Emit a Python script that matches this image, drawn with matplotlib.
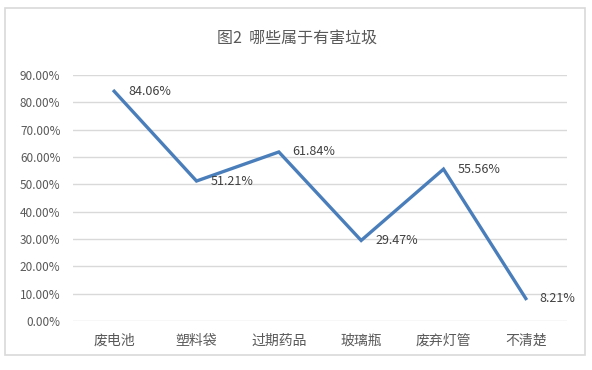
import matplotlib.pyplot as plt
from matplotlib.patches import Rectangle
from matplotlib.ticker import PercentFormatter, MultipleLocator

plt.rcParams['font.family'] = ['Noto Sans CJK SC', 'DejaVu Sans']

categories = ["废电池", "塑料袋", "过期药品", "玻璃瓶", "废弃灯管", "不清楚"]
values = [84.06, 51.21, 61.84, 29.47, 55.56, 8.21]
title = "图2  哪些属于有害垃圾"

line_color = "#4A7EBB"
text_color = "#595959"
grid_color = "#D9D9D9"

fig = plt.figure(figsize=(5.92, 3.70), dpi=100)
ax = fig.add_axes([73 / 592, 1 - 321 / 370, 494 / 592, 246 / 370])

x = range(len(categories))
ax.plot(x, values, color=line_color, linewidth=2.4, solid_joinstyle="miter")

for xi, v in zip(x, values):
    ax.annotate(f"{v:.2f}%", (xi, v), xytext=(10, 0), textcoords="offset points",
                ha="left", va="center", fontsize=9, color="#404040")

ax.set_xlim(-0.5, len(categories) - 0.5)
ax.set_ylim(0, 90)
ax.yaxis.set_major_locator(MultipleLocator(10))
ax.yaxis.set_major_formatter(PercentFormatter(decimals=2))
ax.set_xticks(list(x))
ax.set_xticklabels(categories)

ax.grid(axis="y", color=grid_color, linewidth=1)
ax.set_axisbelow(True)
for s in ax.spines.values():
    s.set_visible(False)
ax.tick_params(axis="both", length=0, colors=text_color)
ax.tick_params(axis="y", labelsize=8.5, pad=9)
ax.tick_params(axis="x", labelsize=10, pad=9)

fig.text(297 / 592, 1 - 38 / 370, title, ha="center", va="center",
         fontsize=11.5, color=text_color)

fig.patches.append(Rectangle((5 / 592, 1 - 355 / 370), 580 / 592, 347 / 370,
                             transform=fig.transFigure, fill=False,
                             edgecolor=grid_color, linewidth=1.2))

fig.savefig("out.png", dpi=100)
